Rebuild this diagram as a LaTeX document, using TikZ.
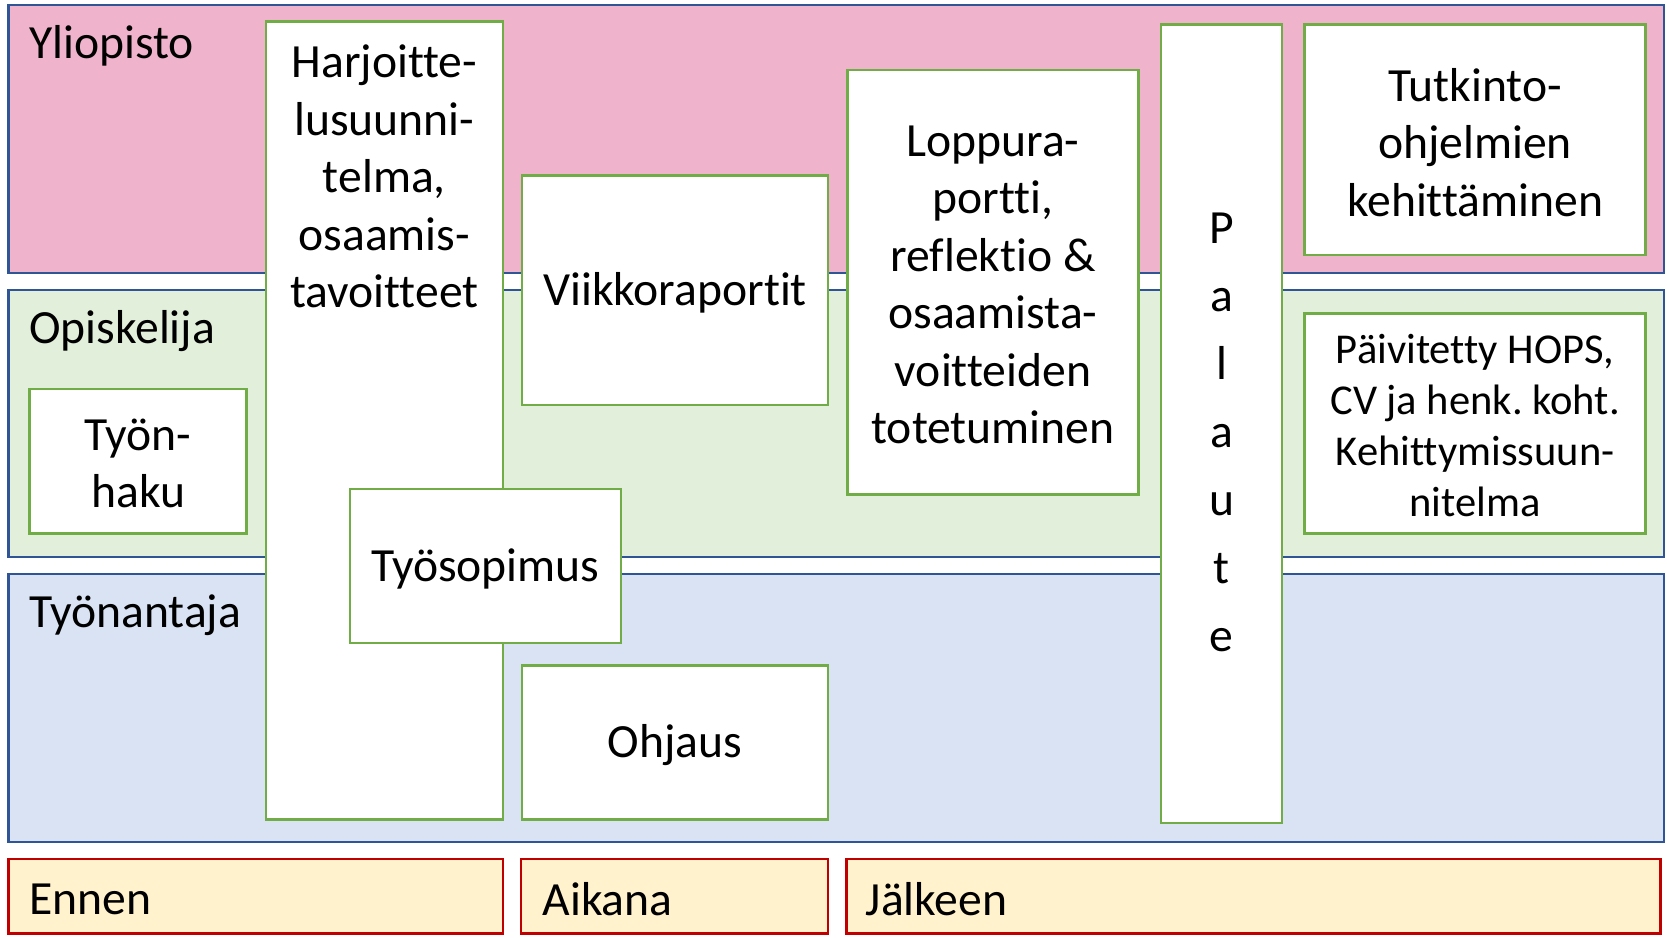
\documentclass[tikz,border=0pt]{standalone}
\usepackage{fontspec}
\setmainfont[Ligatures={NoCommon}]{Carlito}
\frenchspacing
\definecolor{bandblue}{RGB}{47,85,151}
\definecolor{pinkfill}{RGB}{239,179,204}
\definecolor{greenfill}{RGB}{226,239,218}
\definecolor{bluefill}{RGB}{218,227,243}
\definecolor{boxgreen}{RGB}{112,173,71}
\definecolor{timefill}{RGB}{255,242,204}
\definecolor{timered}{RGB}{192,0,0}
\tikzset{
  band/.style={draw=bandblue, line width=1pt},
  wbox/.style={draw=boxgreen, fill=white, line width=1.2pt},
  tbox/.style={draw=timered, fill=timefill, line width=1.2pt},
  big/.style={font=\fontsize{22.4}{27}\selectfont, align=center, inner sep=0pt},
  small/.style={font=\fontsize{20}{24}\selectfont, align=center, inner sep=0pt},
  lbl/.style={font=\fontsize{22.4}{27}\selectfont, anchor=west, inner sep=0pt},
}
\begin{document}
\begin{tikzpicture}[x=0.5pt,y=-0.5pt]
\useasboundingbox (0,0) rectangle (1568,881.4);
% bands
\draw[band, fill=pinkfill] (8,5) rectangle (1565,257);
\draw[band, fill=greenfill] (8,273) rectangle (1565,524);
\draw[band, fill=bluefill] (8,540) rectangle (1565,792);
\node[lbl] (yl) at (27,43) {Yliopisto};
\node[lbl] (op) at (27,311) {Opiskelija};
\node[lbl] (ty) at (27,579) {Työnantaja};
% time bars
\draw[tbox] (8,808) rectangle (473,878);
\draw[tbox] (490,808) rectangle (779,878);
\draw[tbox] (796,808) rectangle (1562,878);
\node[lbl] (en) at (27,846) {Ennen};
\node[lbl] (ai) at (510,846) {Aikana};
\node[lbl] (ja) at (814,846) {Jälkeen};
% white boxes
\draw[wbox] (250,20) rectangle (473,771);
\node[big] (harj) at (361.5,166) {Harjoitte-\\lusuunni-\\telma,\\osaamis-\\tavoitteet};
\draw[wbox] (491,165) rectangle (779,381);
\node[big] (viik) at (635,275) {Viikkoraportit};
\draw[wbox] (797,66) rectangle (1071,465);
\node[big] (lopp) at (934,268) {Loppura-\\portti,\\reflektio \&\\osaamista-\\voitteiden\\totetuminen};
\draw[wbox] (1092,23) rectangle (1206,774);
\node[font=\fontsize{22.4}{32}\selectfont, align=center, inner sep=0pt] (pal) at (1149,407) {P\\a\\l\\a\\u\\t\\e};
\draw[wbox] (1227,23) rectangle (1548,240);
\node[big] (tutk) at (1387.5,134) {Tutkinto-\\ohjelmien\\kehittäminen};
\draw[wbox] (1227,295) rectangle (1548,502);
\node[small] (paiv) at (1387.5,400) {Päivitetty HOPS,\\CV ja henk. koht.\\Kehittymissuun-\\nitelma};
\draw[wbox] (28,366) rectangle (232,502);
\node[big] (hak) at (130,436) {Työn-\\haku};
\draw[wbox] (329,460) rectangle (584,605);
\node[big] (sop) at (456.5,535) {Työsopimus};
\draw[wbox] (491,626) rectangle (779,771);
\node[big] (ohj) at (635,701) {Ohjaus};
\end{tikzpicture}
\end{document}
